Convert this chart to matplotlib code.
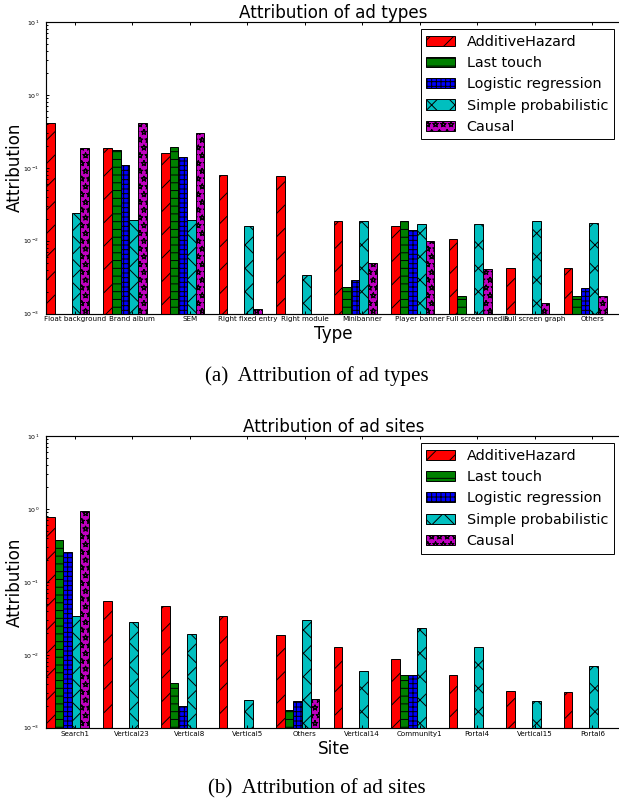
"""
Two grouped bar charts (log scale) comparing attribution methods
for ad types and ad sites.
"""

import numpy as np
import matplotlib
matplotlib.use('Agg')
import matplotlib.pyplot as plt
import matplotlib.hatch

# attribution methods (legend order)
methods = ['AdditiveHazard', 'Last touch', 'Logistic regression',
           'Simple probabilistic', 'Causal']

# panel (a): ad types
types = ['Float background', 'Brand album', 'SEM', 'Right fixed entry',
         'Right module', 'Minibanner', 'Player banner', 'Full screen media',
         'Full screen graph', 'Others']
type_hazard = [0.406, 0.188, 0.161, 0.080, 0.0777, 0.0185, 0.0157, 0.0107, 0.00424, 0.00424]
type_last = [0, 0.173, 0.192, 0, 0, 0.0023, 0.0185, 0.00173, 0, 0.00173]
type_logit = [0, 0.108, 0.139, 0, 0, 0.00287, 0.0141, 0, 0, 0.00225]
type_simple = [0.0236, 0.0191, 0.0191, 0.016, 0.00343, 0.0185, 0.0172, 0.0167, 0.0185, 0.0177]
type_causal = [0.184, 0.406, 0.296, 0.00114, 0, 0.00501, 0.01005, 0.00406, 0.0014, 0.00173]

# panel (b): ad sites
sites = ['Search1', 'Vertical23', 'Vertical8', 'Vertical5', 'Others',
         'Vertical14', 'Community1', 'Portal4', 'Vertical15', 'Portal6']
site_hazard = [0.774, 0.0552, 0.0462, 0.0344, 0.0188, 0.0130, 0.00865, 0.00527, 0.00315, 0.00312]
site_last = [0.375, 0, 0.00406, 0, 0.00177, 0, 0.00522, 0, 0, 0]
site_logit = [0.254, 0, 0.00196, 0, 0.0023, 0, 0.00522, 0, 0, 0]
site_simple = [0.0344, 0.0279, 0.0195, 0.00239, 0.0297, 0.00598, 0.0233, 0.0126, 0.0023, 0.00708]
site_causal = [0.946, 0, 0, 0, 0.00245, 0, 0, 0, 0, 0]

DPI = 140
colors = ['#ff0000', '#008000', '#0000ff', '#00bfbf', '#bf00bf']
hatches = ['//', '---', '+++++', 'xx', '***']


def draw_panel(ax, labels, series, title, xlabel):
    """Grouped log-scale bar chart, one group per label."""
    ind = np.arange(len(labels))
    width = 0.15

    for k, vals in enumerate(series):
        vals = np.asarray(vals, dtype=float)
        keep = vals > 0          # zero = no bar on a log axis
        ax.bar(ind[keep] + k * width, vals[keep], width, align='edge',
               color=colors[k], edgecolor='k', linewidth=0.5,
               hatch=hatches[k], label=methods[k], log=True)

    ax.set_xlim(0, len(labels))
    ax.set_ylim(1e-3, 10)
    ax.set_xticks(ind + 0.5)
    ax.set_xticklabels(labels, fontsize=3.7)

    ax.tick_params(which='both', direction='in', top=True, right=False,
                   width=0.5)
    ax.tick_params(axis='x', which='major', length=1.7, pad=1.5)
    ax.tick_params(axis='y', which='major', length=1.7, pad=3.5, labelsize=3.2)
    ax.tick_params(axis='y', which='minor', length=1.0)
    for sp in ax.spines.values():
        sp.set_linewidth(0.6)

    ax.set_title(title, fontsize=8.6, pad=1)
    ax.set_xlabel(xlabel, fontsize=8.6, labelpad=1.5)
    ax.set_ylabel('Attribution', fontsize=8.6)
    ax.yaxis.set_label_coords(-0.039, 0.5)

    leg = ax.legend(loc='upper right', fontsize=7.4, labelspacing=0.5,
                    borderpad=0.4, handlelength=2.0, handletextpad=0.8,
                    fancybox=False, framealpha=1, edgecolor='k')
    leg.get_frame().set_linewidth(0.5)


def main():
    plt.rcParams['hatch.linewidth'] = 0.5
    # hollow stars like the old matplotlib hatch
    matplotlib.hatch.Stars.filled = False

    fig = plt.figure(figsize=(619 / DPI, 802 / DPI), dpi=DPI)

    # axes run slightly past the right edge, as in the original crop
    ax1 = fig.add_axes([0.0743, 0.609, 0.929, 0.3636])
    ax2 = fig.add_axes([0.0743, 0.0926, 0.929, 0.3637])

    draw_panel(ax1, types,
               [type_hazard, type_last, type_logit, type_simple, type_causal],
               'Attribution of ad types', 'Type')
    draw_panel(ax2, sites,
               [site_hazard, site_last, site_logit, site_simple, site_causal],
               'Attribution of ad sites', 'Site')

    # sub-figure captions
    fig.text(0.512, 0.531, '(a)  Attribution of ad types',
             family='Liberation Serif', fontsize=10.8, ha='center', va='center')
    fig.text(0.512, 0.0162, '(b)  Attribution of ad sites',
             family='Liberation Serif', fontsize=10.8, ha='center', va='center')

    fig.savefig('out.png', dpi=DPI, facecolor='white')


if __name__ == "__main__":
    main()
